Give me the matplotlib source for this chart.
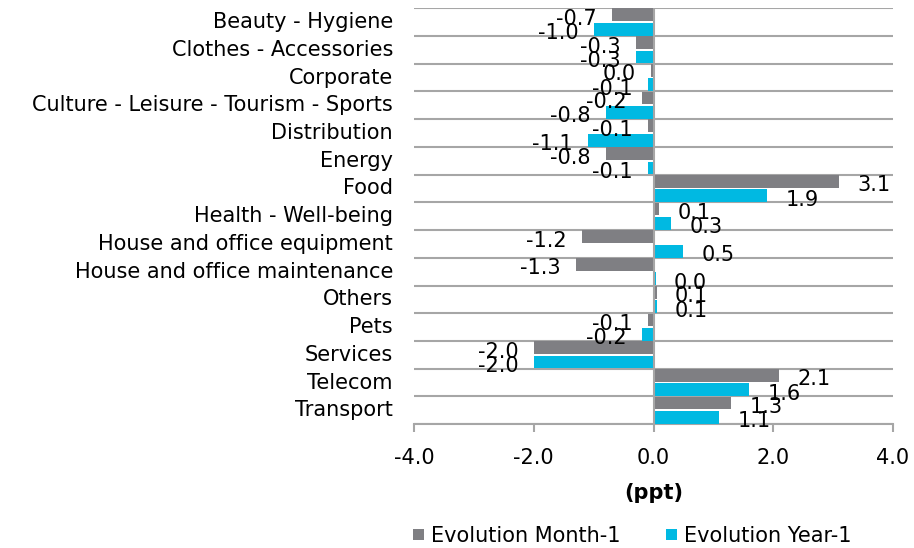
import matplotlib.pyplot as plt
import matplotlib.transforms as mtransforms
import numpy as np

plt.rcParams['font.family'] = ['DejaVu Sans']

categories = ["Beauty - Hygiene", "Clothes - Accessories", "Corporate",
              "Culture - Leisure - Tourism - Sports", "Distribution", "Energy",
              "Food", "Health - Well-being", "House and office equipment",
              "House and office maintenance", "Others", "Pets", "Services",
              "Telecom", "Transport"]
month_1 = [-0.7, -0.3, -0.04, -0.2, -0.1, -0.8, 3.1, 0.1, -1.2, -1.3, 0.06, -0.1, -2.0, 2.1, 1.3]
year_1 = [-1.0, -0.3, -0.1, -0.8, -1.1, -0.1, 1.9, 0.3, 0.5, 0.04, 0.06, -0.2, -2.0, 1.6, 1.1]
x_ticks = [-4.0, -2.0, 0.0, 2.0, 4.0]

GRAY = '#7f7f83'
CYAN = '#00b9e2'
LINE = '#a6a6a6'
FS = 15

fig = plt.figure(figsize=(9.14, 5.48), dpi=100)
ax = fig.add_axes([0.453, 0.226, 0.524, 0.759])

y = np.arange(len(categories))
h = 0.46
ax.barh(y - 0.26, month_1, height=h, color=GRAY, label='Evolution Month-1', zorder=3)
ax.barh(y + 0.26, year_1, height=h, color=CYAN, label='Evolution Year-1', zorder=3)

ax.set_xlim(-4, 4)
ax.set_ylim(len(categories) - 0.5, -0.5)

# horizontal grid at category boundaries
for b in np.arange(-0.5, len(categories), 1.0):
    ax.axhline(b, color=LINE, lw=1.5, zorder=1)
ax.axvline(0, color=LINE, lw=1.5, zorder=4)

for s in ['left', 'right', 'top']:
    ax.spines[s].set_visible(False)
ax.spines['bottom'].set_color(LINE)
ax.spines['bottom'].set_linewidth(1.5)

ax.set_yticks([])
ax.set_xticks(x_ticks)
ax.set_xticklabels([f"{v:.1f}" for v in x_ticks], fontsize=FS)
ax.tick_params(axis='x', direction='out', length=6, width=1.5, color=LINE, pad=11)

# category labels to the left of the plot area
trans = mtransforms.blended_transform_factory(ax.transAxes, ax.transData)
for i, name in enumerate(categories):
    ax.text(-0.044, i, name, transform=trans, ha='right', va='center', fontsize=FS)

def fmt(v):
    return f"{round(v, 1) + 0.0:.1f}"

off = mtransforms.offset_copy
for vals, dy in [(month_1, -0.26), (year_1, 0.26)]:
    for i, v in enumerate(vals):
        if v >= 0:
            t = off(ax.transData, fig=fig, x=18, y=-4, units='dots')
            ax.text(v, i + dy, fmt(v), transform=t, ha='left', va='center', fontsize=FS, zorder=5)
        else:
            t = off(ax.transData, fig=fig, x=-15, y=-4, units='dots')
            ax.text(v, i + dy, fmt(v), transform=t, ha='right', va='center', fontsize=FS, zorder=5)

ax.set_xlabel("(ppt)", fontsize=FS, fontweight='bold', labelpad=11)

fig.legend(loc='center', bbox_to_anchor=(0.692, 0.022), ncol=2, frameon=False,
           fontsize=FS, handlelength=0.5, handleheight=0.5, handletextpad=0.35,
           columnspacing=2.2, borderpad=0)

fig.savefig('out.png', dpi=100)
